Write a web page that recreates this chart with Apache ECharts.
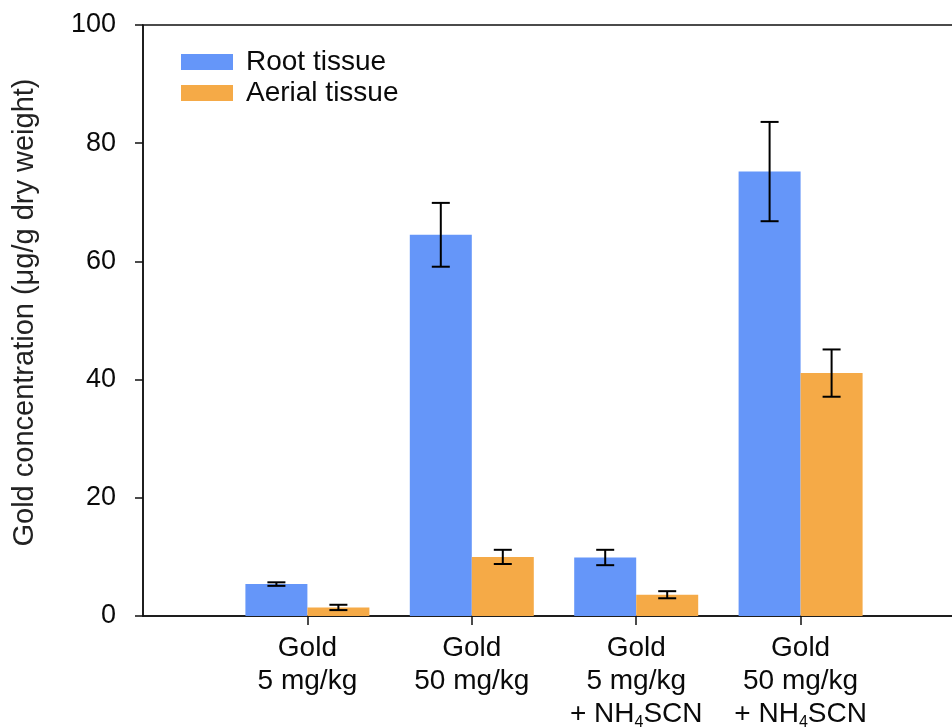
<!DOCTYPE html>
<html>
<head>
<meta charset="utf-8">
<script src="https://cdn.jsdelivr.net/npm/echarts@6/dist/echarts.min.js"></script>
<style>
  html, body { margin: 0; padding: 0; background: #fff; }
  #chart { width: 952px; height: 728px; }
</style>
</head>
<body>
<div id="chart"></div>
<script>
// ---- data ----
const categories = ['', 'Gold\n5 mg/kg', 'Gold\n50 mg/kg', 'Gold\n5 mg/kg\n+ NH{sub|4}SCN', 'Gold\n50 mg/kg\n+ NH{sub|4}SCN', ''];
const seriesNames = ['Root tissue', 'Aerial tissue'];
const rootValues = [null, 5.4, 64.5, 9.9, 75.2, null];
const rootErrors = [null, 0.3, 5.4, 1.3, 8.4, null];
const aerialValues = [null, 1.45, 10.0, 3.6, 41.1, null];
const aerialErrors = [null, 0.45, 1.2, 0.6, 4.0, null];
const yTicks = [0, 20, 40, 60, 80, 100];

// ---- style ----
const FONT = 'Liberation Sans, Arial, sans-serif';
const TEXT = '#0a0a0a';
const BLUE = '#6596F9';
const ORANGE = '#F5AA47';
const BAR_W = 62;
const CAP = 9;

function errorSeries(name, values, errors, dir) {
  const data = values.map((v, i) => v == null ? null : [i, v, errors[i]]).filter(d => d);
  return {
    type: 'custom',
    name: name,
    z: 5,
    renderItem: function (params, api) {
      const i = api.value(0), v = api.value(1), e = api.value(2);
      const hi = api.coord([i, v + e]);
      const lo = api.coord([i, v - e]);
      const x = hi[0] + dir * BAR_W / 2;
      const st = { stroke: '#000', lineWidth: 2 };
      return {
        type: 'group',
        children: [
          { type: 'line', shape: { x1: x, y1: hi[1], x2: x, y2: lo[1] }, style: st },
          { type: 'line', shape: { x1: x - CAP, y1: hi[1], x2: x + CAP, y2: hi[1] }, style: st },
          { type: 'line', shape: { x1: x - CAP, y1: lo[1], x2: x + CAP, y2: lo[1] }, style: st }
        ]
      };
    },
    encode: { x: 0, y: 1 },
    data: data,
    silent: true
  };
}

const chart = echarts.init(document.getElementById('chart'));
chart.setOption({
  animation: false,
  backgroundColor: '#fff',
  textStyle: { fontFamily: FONT, color: TEXT },
  grid: {
    left: 143, top: 25, bottom: 112, right: -13,
    show: true, borderColor: '#111', borderWidth: 1.5,
    outerBoundsMode: 'none', containLabel: false
  },
  legend: {
    data: seriesNames,
    orient: 'vertical',
    left: 176, top: 43,
    itemWidth: 52, itemHeight: 16, itemGap: 3,
    icon: 'rect',
    textStyle: { fontFamily: FONT, fontSize: 28, color: TEXT, padding: [0, 0, 0, 8] }
  },
  xAxis: {
    type: 'category',
    data: categories,
    boundaryGap: false,
    axisLine: { lineStyle: { color: '#111', width: 1.5 } },
    axisTick: { length: 9, lineStyle: { color: '#111', width: 1.5 }, interval: function (i) { return i !== 0; } },
    axisLabel: {
      interval: 0, margin: 16, fontFamily: FONT, fontSize: 28, color: TEXT, lineHeight: 33,
      rich: { sub: { fontSize: 16, fontFamily: FONT, color: TEXT, verticalAlign: 'bottom', lineHeight: 15 } }
    },
    splitLine: { show: false }
  },
  yAxis: {
    type: 'value',
    min: 0, max: 100, interval: 20,
    name: 'Gold concentration (μg/g dry weight)',
    nameLocation: 'middle',
    nameGap: 104,
    nameTextStyle: { fontFamily: FONT, fontSize: 29, color: '#222', padding: [0, 0, 0, 16] },
    axisLine: { show: true, lineStyle: { color: '#111', width: 1.5 } },
    axisTick: { show: true, length: 8, lineStyle: { color: '#111', width: 1.5 } },
    axisLabel: { margin: 27, fontFamily: FONT, fontSize: 27, color: TEXT,
      formatter: function (v) { return yTicks.indexOf(v) >= 0 ? String(v) : ''; } },
    splitLine: { show: false }
  },
  series: [
    { type: 'bar', name: seriesNames[0], data: rootValues, barWidth: BAR_W, barGap: '0%', itemStyle: { color: BLUE } },
    { type: 'bar', name: seriesNames[1], data: aerialValues, barWidth: BAR_W, barGap: '0%', itemStyle: { color: ORANGE } },
    errorSeries('rootErr', rootValues, rootErrors, -1),
    errorSeries('aerialErr', aerialValues, aerialErrors, 1)
  ]
});
</script>
</body>
</html>
